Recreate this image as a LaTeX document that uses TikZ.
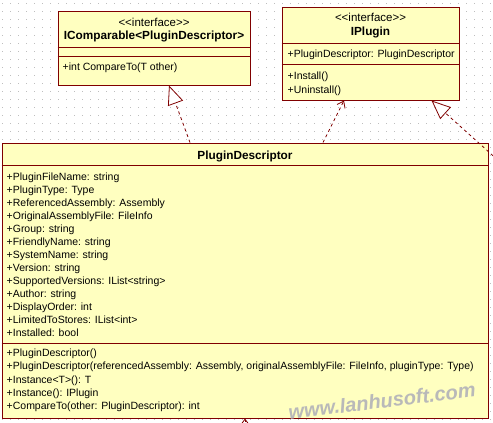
\documentclass[tikz,border=0pt]{standalone}
\usepackage{fontspec}
\setmainfont{Liberation Sans}
\usetikzlibrary{arrows.meta}
\definecolor{umlborder}{RGB}{128,0,0}
\definecolor{umlfill}{RGB}{255,255,192}
\definecolor{griddot}{RGB}{190,190,190}
\tikzstyle{umlclass} = [rectangle, draw=umlborder, fill=umlfill, line width=1pt, inner sep=0pt]
\tikzstyle{member} = [inner sep=0pt, anchor=base west, font=\fontsize{10.5}{13}\selectfont]
\tikzstyle{stereo} = [inner sep=0pt, anchor=base, font=\fontsize{11.5}{13}\selectfont]
\tikzstyle{title} = [stereo, font=\fontsize{11.8}{13}\selectfont\bfseries]
\tikzstyle{sep} = [draw=umlborder, line width=1pt]
\tikzstyle{realize} = [draw=umlborder, line width=0.8pt, dash pattern=on 3pt off 3pt, -{Triangle[open, length=19pt, width=16pt, fill=white]}]
\tikzstyle{depend} = [draw=umlborder, line width=0.8pt, dash pattern=on 3pt off 3pt, -{Straight Barb[length=6pt, width=9pt]}]

\begin{document}
\begin{tikzpicture}[x=1pt, y=-1pt]
		\clip (0,0) rectangle (493,423);
		\fill [white] (0,0) rectangle (493,423);
		% dotted grid of the designer
		\foreach \i in {0,...,61}
			\foreach \j in {0,...,52}
				\fill [griddot] (2+8*\i, 3+8*\j) rectangle +(1,1);

		\node (cmp) [umlclass, minimum width=192pt, minimum height=74pt] at (154,48) {};
		\node (plug) [umlclass, minimum width=177pt, minimum height=93pt] at (370.5,53.5) {};
		\node (desc) [umlclass, minimum width=486pt, minimum height=275pt] at (245,280.5) {};

		\draw [sep] (cmp.west |- 0,47) -- (cmp.east |- 0,47);
		\draw [sep] (cmp.west |- 0,56) -- (cmp.east |- 0,56);
		\draw [sep] (plug.west |- 0,43) -- (plug.east |- 0,43);
		\draw [sep] (plug.west |- 0,64) -- (plug.east |- 0,64);
		\draw [sep] (desc.west |- 0,165) -- (desc.east |- 0,165);
		\draw [sep] (desc.west |- 0,343) -- (desc.east |- 0,343);

		% IComparable<PluginDescriptor>
		\node (cmpst) [stereo] at (cmp.north |- 0,26) {<\kern0pt<interface>\kern0pt>};
		\node (cmpname) [title] at (cmp.north |- 0,39.5) {IComparable<PluginDescriptor>};
		\node (cmpop) [member, xshift=5pt] at (cmp.west |- 0,70) {+int CompareTo(T other)};

		% IPlugin
		\node (plugst) [stereo] at (plug.north |- 0,21) {<\kern0pt<interface>\kern0pt>};
		\node (plugname) [title] at (plug.north |- 0,35.5) {IPlugin};
		\node (plugattr) [member, xshift=6pt] at (plug.west |- 0,57) {+PluginDescriptor: PluginDescriptor};
		\node (plugop1) [member, xshift=6pt] at (plug.west |- 0,79) {+Install()};
		\node (plugop2) [member, xshift=6pt] at (plug.west |- 0,93) {+Uninstall()};

		% PluginDescriptor
		\node (descname) [title] at (desc.north |- 0,159.5) {PluginDescriptor};
		\foreach \t [count=\k from 0] in {+PluginFileName: string, +PluginType: Type,
				+ReferencedAssembly: Assembly, +OriginalAssemblyFile: FileInfo,
				+Group: string, +FriendlyName: string, +SystemName: string,
				+Version: string, +SupportedVersions: IList<string>, +Author: string,
				+DisplayOrder: int, +LimitedToStores: IList<int>, +Installed: bool}
			\node (attr\k) [member, xshift=5pt] at (desc.west |- 0,{180+13*\k}) {\t};
		\foreach \t [count=\k from 0] in {+PluginDescriptor(),
				{+PluginDescriptor(referencedAssembly: Assembly, originalAssemblyFile: FileInfo, pluginType: Type)},
				+Instance<T>(): T, +Instance(): IPlugin,
				+CompareTo(other: PluginDescriptor): int}
			\node (op\k) [member, xshift=5pt] at (desc.west |- 0,{356.5+13.25*\k}) {\t};

		\node (mark) [rotate=7, inner sep=0pt, text=gray!55, font=\fontsize{20}{20}\selectfont\itshape\bfseries] at (382,401) {www.lanhusoft.com};

		% connectors
		\coordinate (offright) at (520,180);
		\coordinate (offbelow) at (245,440);
		\draw [realize] ([xshift=-55pt]desc.north) -- ([xshift=15pt]cmp.south);
		\draw [depend] ([xshift=78pt]desc.north) -- ([xshift=-26.5pt]plug.south);
		\draw [realize] (offright) -- ([xshift=-28pt]plug.south east);
		\draw [depend] (offbelow) -- (desc.south);
	  \end{tikzpicture}
\end{document}
